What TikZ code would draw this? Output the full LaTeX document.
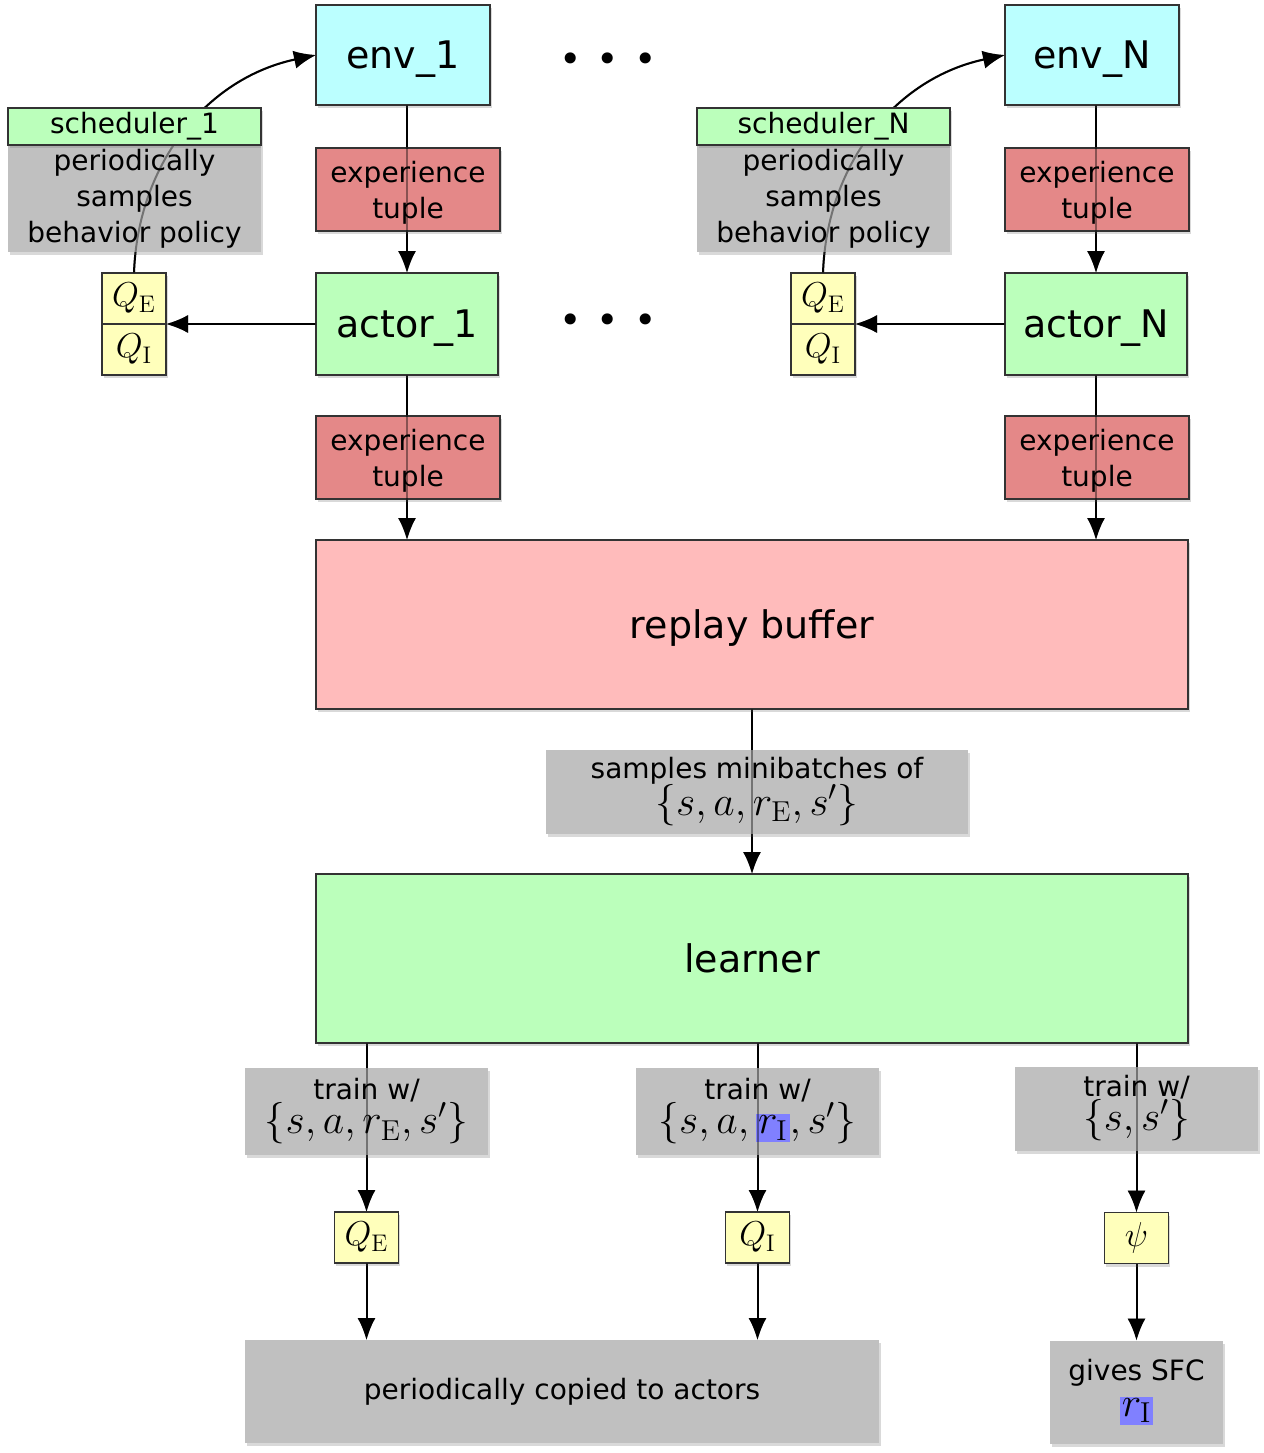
\documentclass[tikz,border=0pt]{standalone}
\usepackage[no-math]{fontspec}
\setmainfont{DejaVu Sans}
\usetikzlibrary{shapes,arrows.meta,positioning,shadows,calc}

\definecolor{envcol}{RGB}{187,255,255}
\definecolor{expcol}{RGB}{228,136,136}
\definecolor{grncol}{RGB}{187,255,187}
\definecolor{replaycol}{RGB}{255,187,187}
\definecolor{notecol}{RGB}{192,192,192}
\definecolor{ycol}{RGB}{255,255,187}
\definecolor{hlcol}{RGB}{128,128,255}

\pgfdeclarelayer{background}
\pgfdeclarelayer{foreground}
\pgfdeclarelayer{top}
\pgfsetlayers{background,main,foreground,top}

\newcommand{\bigfont}{\fontsize{19}{23}\selectfont}
\newcommand{\smallfont}{\fontsize{14}{18}\selectfont}
\newcommand{\mathfont}{\fontsize{21.5}{18}\selectfont}
\newcommand{\hlri}{{\setlength{\fboxsep}{1pt}\colorbox{hlcol}{$r_{\mathrm{I}}$}}}

% all connectors, drawn once solid and once faint on top of the boxes
\newcommand{\drawlinks}[1]{%
    \draw [arrow,#1] (actor1.north |- env1.south) -- (actor1.north);
    \draw [arrow,#1] (actor1.south) -- (actor1.south |- replay.north);
    \draw [arrow,#1] (actorN.north |- envN.south) -- (actorN.north);
    \draw [arrow,#1] (actorN.south) -- (actorN.south |- replay.north);
    \draw [arrow,#1] (actor1.west) -- (actor1.west -| qe1.east);
    \draw [arrow,#1] (actorN.west) -- (actorN.west -| qeN.east);
    \draw [arrow,#1] (qe1.north) to[out=88, in=192] (env1.west);
    \draw [arrow,#1] (qeN.north) to[out=88, in=192] (envN.west);
    \draw [arrow,#1] (replay) -- (learner);
    \draw [arrow,#1] (qeb.north |- learner.south) -- (qeb.north);
    \draw [arrow,#1] (qib.north |- learner.south) -- (qib.north);
    \draw [arrow,#1] (psi.north |- learner.south) -- (psi.north);
    \draw [arrow,#1] (qeb.south) -- (qeb.south |- copied.north);
    \draw [arrow,#1] (qib.south) -- (qib.south |- copied.north);
    \draw [arrow,#1] (psi) -- (gives);
}

\begin{document}
\begin{tikzpicture}[x=0.5pt, y=-0.5pt, >={Latex[length=11pt,width=9pt]}]
    \tikzstyle{shade}    = [drop shadow={shadow xshift=0.8pt, shadow yshift=-1.5pt, opacity=0.3}]
    \tikzstyle{box}      = [draw=black!80, line width=0.8pt, rectangle, align=center, inner sep=2pt, outer sep=0pt, shade]
    \tikzstyle{envbox}   = [box, fill=envcol, minimum width=87pt, minimum height=50pt, text depth=0pt, font=\bigfont]
    \tikzstyle{expbox}   = [box, fill=expcol, minimum width=92pt, minimum height=41.5pt, text depth=0pt, font=\smallfont]
    \tikzstyle{actorbox} = [box, fill=grncol, minimum width=91pt, minimum height=51pt, text depth=0pt, font=\bigfont]
    \tikzstyle{schedbox} = [box, fill=grncol, minimum width=126.5pt, minimum height=18.5pt, font=\smallfont]
    \tikzstyle{bigbox}   = [box, minimum width=436pt, minimum height=84.5pt, text depth=0pt, font=\bigfont]
    \tikzstyle{qbox}     = [box, fill=ycol, minimum width=32pt, minimum height=25.5pt, inner sep=1pt, font=\fontsize{17}{20}\selectfont]
    \tikzstyle{note}     = [rectangle, fill=notecol, align=center, inner sep=2pt, outer sep=0pt, font=\smallfont, shade]
    \tikzstyle{arrow}    = [line width=1pt, ->]

    \useasboundingbox (0,0) rectangle (1264,1453);

    % Column 1
    \node [envbox, anchor=north west] (env1) at (316,5) {env\_1};
    \node [expbox, below right=21.5pt and 0pt of env1.south west] (exp1) {experience\\tuple};
    \node [actorbox, below right=21pt and 0pt of exp1.south west] (actor1) {actor\_1};
    \node [expbox, below right=20.5pt and 0pt of actor1.south west] (exp1b) {experience\\tuple};
    \node [qbox, anchor=north] (qe1) at (134,273) {$Q_{\mathrm{E}}$};
    \node [qbox, below=0pt of qe1] (qi1) {$Q_{\mathrm{I}}$};
    \node [note, anchor=north west, minimum width=126.5pt, minimum height=52.5pt] (note1) at (8,145) {periodically\\samples\\behavior policy};

    % Column N
    \node [envbox, anchor=north west] (envN) at (1005,5) {env\_N};
    \node [expbox, below right=21.5pt and 0pt of envN.south west] (expN) {experience\\tuple};
    \node [actorbox, below right=21pt and 0pt of expN.south west] (actorN) {actor\_N};
    \node [expbox, below right=20.5pt and 0pt of actorN.south west] (expNb) {experience\\tuple};
    \node [qbox, anchor=north] (qeN) at (823,273) {$Q_{\mathrm{E}}$};
    \node [qbox, below=0pt of qeN] (qiN) {$Q_{\mathrm{I}}$};
    \node [note, anchor=north west, minimum width=126.5pt, minimum height=52.5pt] (noteN) at (697,145) {periodically\\samples\\behavior policy};

    % Dots between the columns
    \node [font=\bigfont] (dots1) at (608,63) {\textbullet\hspace{7.5pt}\textbullet\hspace{7.5pt}\textbullet};
    \node [font=\bigfont] (dots2) at (608,324) {\textbullet\hspace{7.5pt}\textbullet\hspace{7.5pt}\textbullet};

    % Buffer and learner
    \node [bigbox, fill=replaycol, below right=20.5pt and 0pt of exp1b.south west] (replay) {replay buffer};
    \node [bigbox, fill=grncol, below=82.5pt of replay] (learner) {learner};
    \node [note, minimum width=211pt, minimum height=42pt, xshift=2.5pt] (samples) at ($(replay.south)!0.5!(learner.north)$)
        {samples minibatches of\\[-1pt] {\mathfont$\{s,a,r_{\mathrm{E}},s'\}$}};

    % Training outputs
    \node [note, minimum width=121.5pt, minimum height=43.5pt, below right=12.5pt and -35.5pt of learner.south west] (train1)
        {train w/\\[-1pt] {\mathfont$\{s,a,r_{\mathrm{E}},s'\}$}};
    \node [note, minimum width=121.5pt, minimum height=43.5pt, right=74pt of train1] (train2)
        {train w/\\[-1pt] {\mathfont$\{s,a,\hlri,s'\}$}};
    \node [note, minimum width=121.5pt, minimum height=42pt, right=68pt of train2, yshift=1.5pt] (train3)
        {train w/\\[-1pt] {\mathfont$\{s,s'\}$}};
    \node [qbox, below=28.5pt of train1] (qeb) {$Q_{\mathrm{E}}$};
    \node [qbox, below=28.5pt of train2] (qib) {$Q_{\mathrm{I}}$};
    \node [qbox, below=31pt of train3] (psi) {$\psi$};
    \node [note, anchor=north west, minimum width=317pt, minimum height=51.5pt] (copied) at ($(train1.south west)+(0,185)$) {periodically copied to actors};
    \node [note, minimum width=86.5pt, minimum height=51.5pt, below=38.5pt of psi] (gives) {gives SFC\\[0pt] {\mathfont\hlri}};

    % Schedulers sit above the curved connectors
    \begin{pgfonlayer}{top}
        \node [schedbox, above=0pt of note1] (sched1) {scheduler\_1};
        \node [schedbox, above=0pt of noteN] (schedN) {scheduler\_N};
    \end{pgfonlayer}

    % Connections
    \begin{pgfonlayer}{background}
        \drawlinks{}
    \end{pgfonlayer}
    \begin{pgfonlayer}{foreground}
        \drawlinks{opacity=0.4}
    \end{pgfonlayer}
\end{tikzpicture}
\end{document}
